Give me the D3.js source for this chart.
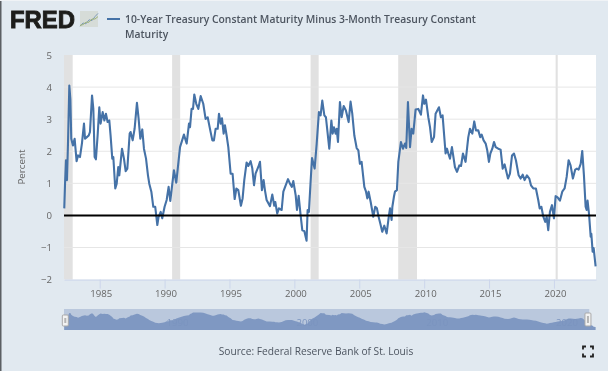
<!DOCTYPE html>
<html><head><meta charset="utf-8">
<script src="https://cdn.jsdelivr.net/npm/d3@7"></script>
<style>
html,body{margin:0;padding:0;background:#e1e9f0;overflow:hidden}
svg{display:block;filter:blur(0.35px)}
text{font-family:"Open Sans",sans-serif}
</style></head><body>
<svg id="c" width="608" height="371"></svg>
<script>
const titleLines = ["10-Year Treasury Constant Maturity Minus 3-Month Treasury Constant","Maturity"];
const yAxisTitle = "Percent";
const sourceText = "Source: Federal Reserve Bank of St. Louis";
const xTickYears = [1985,1990,1995,2000,2005,2010,2015,2020];
const navTickYears = [1990,2000,2010,2020];
const yTicks = [-2,-1,0,1,2,3,4,5];
const recessionStart = [1982.25,1990.58,2001.25,2008.0,2020.13];
const recessionEnd   = [1982.92,1991.2,2001.87,2009.45,2020.29];
const years = [
1982.27,1982.33,1982.40,1982.48,1982.56,1982.66,1982.74,1982.81,1982.94,1983.07,1983.22,1983.33,1983.48,1983.63,1983.79,1983.87,
1984.01,1984.15,1984.25,1984.41,1984.51,1984.61,1984.71,1984.84,1984.97,1985.07,1985.23,1985.36,1985.48,1985.61,1985.74,1985.84,1985.97,
1986.05,1986.20,1986.31,1986.43,1986.51,1986.72,1986.87,1987.00,1987.13,1987.31,1987.38,1987.54,1987.69,1987.87,1988.00,1988.13,1988.28,1988.41,1988.57,1988.72,1988.82,1988.98,
1989.13,1989.28,1989.44,1989.54,1989.70,1989.82,1990.00,1990.16,1990.31,
1990.44,1990.72,1990.90,1991.19,1991.49,1991.70,1991.88,1991.96,1992.08,1992.19,1992.29,1992.44,1992.60,1992.78,1992.98,1993.16,1993.32,1993.52,1993.68,1993.80,1993.93,
1994.09,1994.19,1994.32,1994.42,1994.55,1994.65,1994.78,1994.91,1995.09,1995.24,1995.40,1995.53,1995.68,1995.88,1996.01,1996.14,1996.32,1996.45,1996.63,1996.76,1996.89,
1997.01,1997.22,1997.35,1997.50,1997.63,1997.73,1997.86,1998.12,1998.30,1998.45,
1998.53,1998.68,1998.81,1999.02,1999.15,1999.33,1999.51,1999.66,1999.81,1999.92,2000.10,2000.20,2000.33,2000.48,2000.61,2000.77,2000.94,2001.02,2001.12,2001.25,2001.36,2001.56,2001.72,2001.89,
2002.02,2002.15,2002.31,2002.43,2002.69,2002.85,2002.95,2003.05,2003.18,2003.26,2003.36,2003.51,2003.64,2003.80,2003.97,2004.18,2004.33,2004.46,2004.62,2004.80,2004.93,
2005.05,2005.18,2005.39,2005.52,2005.62,2005.72,2005.88,2006.08,2006.23,2006.36,
2006.49,2006.62,2006.77,2006.93,2007.11,2007.29,2007.37,2007.49,2007.55,2007.67,2007.75,2007.90,2008.01,2008.21,2008.37,2008.52,2008.62,2008.75,2008.91,2009.03,2009.16,2009.34,2009.55,2009.75,2009.91,
2010.01,2010.14,2010.32,2010.45,2010.58,2010.76,2010.88,2011.14,2011.29,2011.42,2011.65,2011.76,2011.86,2011.99,2012.14,2012.37,2012.53,2012.71,2012.84,2012.99,2013.19,2013.40,2013.53,2013.71,2013.86,2013.99,2014.17,2014.32,2014.43,2014.58,
2014.74,2014.86,2014.99,2015.10,2015.25,2015.38,2015.51,2015.71,2015.89,2016.05,2016.20,2016.46,2016.61,2016.77,2016.92,2017.07,2017.28,2017.43,2017.59,2017.74,2017.92,
2018.10,2018.23,2018.41,2018.61,2018.79,2018.90,2019.03,2019.18,2019.33,2019.44,2019.56,2019.69,2019.85,2020.00,2020.13,2020.28,2020.46,2020.64,2020.82,2020.98,
2021.13,2021.28,2021.46,2021.64,2021.77,2021.90,2022.06,2022.18,2022.31,2022.44,2022.52,2022.59,2022.70,2022.83,2022.88,2022.98,2023.06,2023.21];
const values = [
.22,.99,1.72,1.10,2.29,4.05,3.63,2.39,2.18,2.39,1.69,1.87,1.82,2.24,2.86,2.39,
2.44,2.49,2.60,3.74,3.32,1.82,1.75,2.49,3.37,2.86,3.22,2.96,3.17,2.91,2.96,2.49,1.77,
1.82,.84,.99,1.51,1.25,2.08,1.77,1.38,1.46,2.55,2.60,2.34,2.70,3.51,3.01,2.39,2.68,2.08,1.77,1.25,.99,.74,
.27,.27,-.30,-.04,.11,-.09,.27,.48,.89,
.45,1.41,1.02,2.13,2.52,2.24,2.86,2.75,3.32,3.32,3.77,3.48,3.32,3.72,3.48,3.01,3.06,2.65,2.34,2.34,2.70,
2.70,3.17,2.86,3.03,2.55,2.81,2.49,2.13,1.30,1.30,.51,.84,.79,.30,.53,1.10,1.65,1.54,1.69,1.46,.94,
1.30,1.51,1.67,.79,1.10,.79,.48,.29,.65,.30,
.42,.06,.22,.17,.74,.94,1.13,.99,.89,1.07,.63,.17,.61,.01,-.46,-.49,-.79,.17,.11,1.05,1.79,1.46,2.24,3.22,
3.12,3.58,3.12,3.06,2.08,2.96,2.55,2.75,2.55,2.70,2.29,3.53,3.06,3.41,3.27,2.91,3.55,3.17,2.49,2.10,2.03,
1.61,1.67,.89,.74,.53,.74,.42,-.04,.27,.22,
-.04,-.25,-.51,-.32,-.56,.01,.22,-.14,.27,.58,.74,.79,1.67,2.29,2.08,2.24,2.10,3.53,2.13,2.70,2.55,3.30,3.32,3.14,3.74,
3.48,3.61,3.06,2.75,2.29,2.44,3.17,3.37,3.06,3.12,1.93,2.08,1.93,1.77,2.13,1.51,1.36,1.56,1.54,1.93,1.67,2.44,2.70,2.55,2.93,2.65,2.65,2.44,2.52,2.34,
2.24,2.03,1.67,1.93,2.08,2.29,2.13,2.08,2.05,1.46,1.59,1.15,1.30,1.87,1.93,1.72,1.25,1.15,1.27,1.10,1.25,
1.15,.94,.84,.84,.48,.22,.27,-.04,-.20,-.04,-.46,.11,.32,-.09,.60,.56,.46,.74,.84,1.20,
1.72,1.56,1.15,1.43,1.46,1.43,1.61,2.01,1.25,.27,.17,.46,.06,-.66,-.57,-1.13,-1.02,-1.59];

const colors = {bg:"#e1e9f0",line:"#4572a7",grid:"#e6e6e6",rec:"#e1e1e1",text:"#666666",title:"#4d5560",axis:"#ccd6eb",navBand:"#bac8dd",navArea:"#7f98c2"};
const svg = d3.select("#c");
const points = years.map((y,i)=>({y,v:values[i]}));
// navigator shows a grouped view of the same series
const navPoints = points.map((p,i)=>({y:p.y,v:d3.mean(values.slice(Math.max(0,i-1),i+2))}));

const x = d3.scaleLinear().domain([1982.25,2023.24]).range([64,596]);
const y = d3.scaleLinear().domain([-2,5]).range([279.6,55]);

// frame
svg.append("rect").attr("width",608).attr("height",371).attr("fill",colors.bg);
svg.append("rect").attr("width",1.5).attr("height",371).attr("fill","#5b5f63");
svg.append("rect").attr("width",608).attr("height",1).attr("fill","#f0f3f6");

// logo
svg.append("text").attr("x",10).attr("y",28).attr("textLength",65).attr("lengthAdjust","spacingAndGlyphs")
  .style("font-family","'Liberation Sans',sans-serif").style("font-weight",700).style("font-size","24px")
  .attr("fill","#1d1d1b").attr("stroke","#1d1d1b").attr("stroke-width",0.9).text("FRED");
const logoX = d3.scaleLinear().domain([0,1]).range([80,98]);
const logoY = d3.scaleLinear().domain([0,1]).range([27,11]);
const logoLineA = [.05,.25,.2,.45,.4,.65,.85], logoLineB = [.1,.15,.3,.3,.5,.5,.65];
svg.append("rect").attr("x",logoX(0)).attr("y",logoY(1)).attr("width",logoX(1)-logoX(0)).attr("height",logoY(0)-logoY(1)).attr("fill","#d6dcd8");
[[logoLineA,"#7e9bb9"],[logoLineB,"#9db27a"]].forEach(([a,c])=>{
  svg.append("path").attr("fill","none").attr("stroke",c).attr("stroke-width",1)
    .attr("d",d3.line().x((d,i)=>logoX(i/(a.length-1))).y(d=>logoY(d))(a));
});

// title + legend
svg.append("line").attr("x1",107).attr("x2",120).attr("y1",19).attr("y2",19).attr("stroke",colors.line).attr("stroke-width",2);
svg.selectAll("text.title").data(titleLines).join("text").attr("class","title")
  .attr("x",125).attr("y",(d,i)=>23+i*15).attr("fill",colors.title)
  .style("font-size","10.35px").style("font-weight",600).text(d=>d);

// plot
svg.append("rect").attr("x",64).attr("y",55).attr("width",532).attr("height",y(-2)-55).attr("fill","#fff");
svg.selectAll("rect.rec").data(recessionStart).join("rect").attr("class","rec")
  .attr("x",d=>x(d)).attr("y",55).attr("width",(d,i)=>x(recessionEnd[i])-x(d)).attr("height",y(-2)-55).attr("fill",colors.rec);
svg.selectAll("line.grid").data(yTicks.filter(t=>t!==0&&t!==-2&&t!==5)).join("line").attr("class","grid")
  .attr("x1",64).attr("x2",596).attr("y1",d=>y(d)).attr("y2",d=>y(d)).attr("stroke",colors.grid);

// axes
const gx = svg.append("g").attr("transform",`translate(0,${y(-2)})`)
  .call(d3.axisBottom(x).tickValues(xTickYears).tickFormat(d3.format("d")).tickSize(9).tickSizeOuter(0).tickPadding(2));
gx.select(".domain").attr("stroke",colors.axis);
gx.selectAll("line").attr("stroke",colors.axis);
gx.selectAll("text").attr("fill",colors.text).attr("dx",1).style("font-size","9.6px");
const gy = svg.append("g").attr("transform","translate(52,0)")
  .call(d3.axisLeft(y).tickValues(yTicks).tickFormat(d3.format("d")).tickSize(0).tickPadding(0));
gy.select(".domain").remove();
gy.selectAll("text").attr("fill",colors.text).style("font-size","9.6px");
svg.append("text").attr("transform","translate(25,167) rotate(-90)").attr("text-anchor","middle")
  .attr("fill",colors.text).style("font-size","9.8px").text(yAxisTitle);

// series
const lineGen = d3.line().x(d=>x(d.y)).y(d=>y(d.v));
svg.append("path").datum(points).attr("fill","none").attr("stroke",colors.line).attr("stroke-width",2.1)
  .attr("stroke-linejoin","round").attr("d",lineGen);
svg.append("line").attr("x1",64).attr("x2",596).attr("y1",y(0)).attr("y2",y(0)).attr("stroke","#000").attr("stroke-width",2);

// navigator
const navY = d3.scaleLinear().domain([-2.33,4.67]).range([330,309]);
svg.append("rect").attr("x",64).attr("y",309).attr("width",x(2022.72)-64).attr("height",21).attr("fill",colors.navBand);
svg.append("path").datum(navPoints).attr("fill",colors.navArea)
  .attr("d",d3.area().x(d=>x(d.y)).y0(330).y1(d=>navY(d.v)));
svg.selectAll("text.nav").data(navTickYears).join("text").attr("class","nav")
  .attr("x",d=>x(d)+13).attr("y",326).attr("text-anchor","middle").attr("fill","#7b94bf").style("font-size","9.6px").text(d=>d);
[[x(1982.35),315,6,11],[x(2022.62),313,6,13]].forEach(([hx,hy,w,h])=>{
  svg.append("rect").attr("x",hx-w/2).attr("y",hy).attr("width",w).attr("height",h).attr("rx",1).attr("fill","#f2f2f2").attr("stroke","#a9a9a9");
  svg.append("rect").attr("x",hx-1).attr("y",hy+3).attr("width",2).attr("height",h-6).attr("fill","#b5b5b5");
});

// source
svg.append("text").attr("x",316).attr("y",355).attr("text-anchor","middle").attr("fill",colors.title)
  .style("font-size","10.2px").text(sourceText);

// fullscreen icon
const cornerSigns = [[-1,-1],[1,-1],[-1,1],[1,1]];
svg.selectAll("path.fs").data(cornerSigns).join("path").attr("class","fs").attr("fill","none").attr("stroke","#222").attr("stroke-width",1.8)
  .attr("d",([a,b])=>{const cx=588+a*5,cy=351.5+b*5;return `M${cx-a*3},${cy}H${cx}V${cy-b*3}`;});
</script></body></html>
